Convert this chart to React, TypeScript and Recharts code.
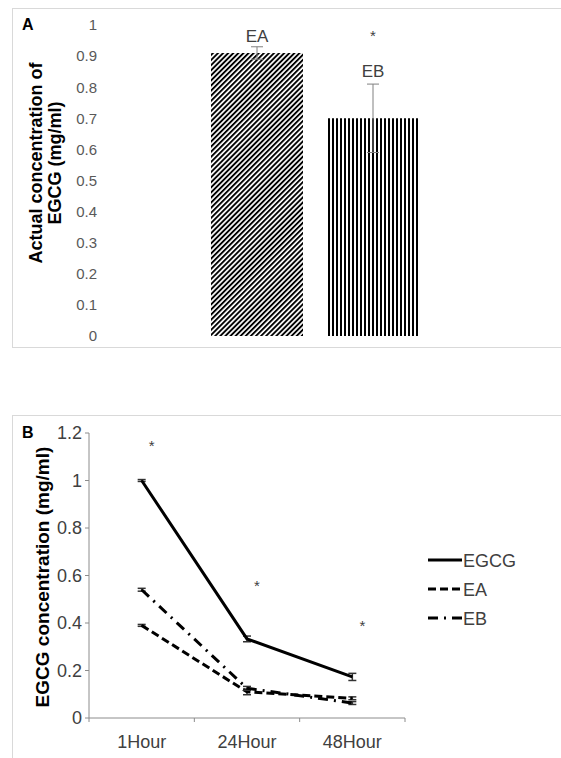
import React from "react";
import {
  BarChart,
  Bar,
  LineChart,
  Line,
  XAxis,
  YAxis,
  ErrorBar,
  LabelList,
  Legend,
} from "recharts";

// ==================== DATA ====================

// Panel A – actual concentration of EGCG in the two formulations
const formulationGroup = [""];
const eaValues = [0.91];
const eaErrors = [0.02];
const eaLabels = ["EA"];
const ebValues = [0.7];
const ebErrors = [0.11];
const ebLabels = ["EB"];
const ebSignificance = ["*"];
const ticksA = [0, 0.1, 0.2, 0.3, 0.4, 0.5, 0.6, 0.7, 0.8, 0.9, 1];

// Panel B – EGCG concentration over time
const seriesNames = ["EGCG", "EA", "EB"];
const timePoints = ["1Hour", "24Hour", "48Hour"];
const egcgValues = [1.0, 0.333, 0.173];
const egcgErrors = [0.004, 0.012, 0.015];
const eaTimeValues = [0.39, 0.11, 0.083];
const eaTimeErrors = [0.004, 0.012, 0.006];
const ebTimeValues = [0.54, 0.125, 0.063];
const ebTimeErrors = [0.006, 0.008, 0.006];
const starLevels = [1.16, 0.57, 0.4];
const ticksB = [0, 0.2, 0.4, 0.6, 0.8, 1, 1.2];

const FONT = "'Liberation Sans', Arial, sans-serif";

const dataA = formulationGroup.map((g, i) => ({
  group: g,
  EA: eaValues[i],
  EAerr: eaErrors[i],
  EAlabel: eaLabels[i],
  EB: ebValues[i],
  EBerr: ebErrors[i],
  EBlabel: ebLabels[i],
  EBsig: ebSignificance[i],
}));

const dataB = timePoints.map((t, i) => ({
  time: t,
  EGCG: egcgValues[i],
  EGCGerr: egcgErrors[i],
  EA: eaTimeValues[i],
  EAerr: eaTimeErrors[i],
  EB: ebTimeValues[i],
  EBerr: ebTimeErrors[i],
  star: starLevels[i],
}));

// ==================== PANEL B HELPERS ====================

const B_PLOT_W = 316;
const B_BAND = B_PLOT_W / timePoints.length;
const LEGEND_W = 130;

const lineStyles: Record<string, string | undefined> = {
  EGCG: undefined,
  EA: "8 4",
  EB: "10 6 2 6",
};

const TimeTick = (props: any) => {
  const { x, y, payload, index } = props;
  const last = index === timePoints.length - 1;
  return (
    <g>
      <line x1={x - B_BAND / 2} y1={y} x2={x - B_BAND / 2} y2={y + 4} stroke="#8c8c8c" />
      {last && (
        <line x1={x + B_BAND / 2} y1={y} x2={x + B_BAND / 2} y2={y + 4} stroke="#8c8c8c" />
      )}
      <text x={x} y={y + 30} textAnchor="middle" fontSize={18} fill="#404040" fontFamily={FONT}>
        {payload.value}
      </text>
    </g>
  );
};

const renderStar = (props: any) => {
  const { cx, cy, index } = props;
  return (
    <text key={`star-${index}`} x={cx + 10} y={cy + 8} textAnchor="middle" fontSize={15} fill="#404040" stroke="none" fontFamily={FONT}>
      *
    </text>
  );
};

// legend keeps the original series order: EGCG, EA, EB
const LegendB = () => (
  <svg width={LEGEND_W} height={90} style={{ display: "block" }}>
    {seriesNames.map((name, i) => {
      const y = 14 + i * 29;
      return (
        <g key={name}>
          <line x1={0} y1={y} x2={34} y2={y} stroke="#000" strokeWidth={3} strokeDasharray={lineStyles[name]} />
          <text x={35} y={y + 6.5} fontSize={18} fill="#404040" fontFamily={FONT}>
            {name}
          </text>
        </g>
      );
    })}
  </svg>
);

// ==================== APP ====================

export default function App() {
  return (
    <div
      style={{
        position: "absolute",
        left: 0,
        top: 0,
        width: 561,
        height: 758,
        overflow: "hidden",
        background: "#fff",
        fontFamily: FONT,
      }}
    >
      {/* frames */}
      <div style={{ position: "absolute", left: 12, top: 8, width: 600, height: 338, border: "1px solid #d9d9d9" }} />
      <div style={{ position: "absolute", left: 12, top: 415, width: 600, height: 400, border: "1px solid #d9d9d9" }} />

      {/* Panel A */}
      <div style={{ position: "absolute", left: 0, top: 0 }}>
        <BarChart
          width={561}
          height={350}
          data={dataA}
          margin={{ top: 25, right: 31, bottom: 14, left: 0 }}
          barSize={92}
          barGap={24}
        >
          <defs>
            <pattern id="diag" patternUnits="userSpaceOnUse" width={3.6} height={3.6} patternTransform="rotate(45)">
              <rect x={0} y={0} width={3.6} height={3.6} fill="#fff" />
              <rect x={0} y={0} width={1.9} height={3.6} fill="#000" />
            </pattern>
            <pattern id="vert" patternUnits="userSpaceOnUse" width={4} height={4}>
              <rect x={0} y={0} width={4} height={4} fill="#fff" />
              <rect x={0} y={0} width={2} height={4} fill="#000" />
            </pattern>
          </defs>
          <XAxis dataKey="group" hide />
          <YAxis
            domain={[0, 1]}
            ticks={ticksA}
            axisLine={false}
            tickLine={false}
            tickSize={0}
            tickMargin={3}
            width={100}
            tick={{ fontSize: 15, fill: "#595959", fontFamily: FONT }}
          />
          <Bar dataKey="EA" fill="url(#diag)" isAnimationActive={false}>
            <ErrorBar dataKey="EAerr" width={6} stroke="#808080" strokeWidth={1} direction="y" />
            <LabelList dataKey="EAlabel" position="top" offset={11} fontSize={17} fill="#404040" fontFamily={FONT} />
          </Bar>
          <Bar dataKey="EB" fill="url(#vert)" isAnimationActive={false}>
            <ErrorBar dataKey="EBerr" width={6} stroke="#808080" strokeWidth={1} direction="y" />
            <LabelList dataKey="EBlabel" position="top" offset={41} fontSize={17} fill="#404040" fontFamily={FONT} />
            <LabelList dataKey="EBsig" position="top" offset={77} fontSize={15} fill="#404040" fontFamily={FONT} />
          </Bar>
        </BarChart>
      </div>

      {/* Panel B */}
      <div style={{ position: "absolute", left: 0, top: 400 }}>
        {/* the vertical legend reserves its own width on the right, so the margin leaves it out */}
        <LineChart width={561} height={358} data={dataB} margin={{ top: 33, right: 156 - LEGEND_W, bottom: 0, left: 0 }}>
          <XAxis
            dataKey="time"
            height={40}
            padding={{ left: B_BAND / 2, right: B_BAND / 2 }}
            axisLine={{ stroke: "#8c8c8c" }}
            tickLine={false}
            tickSize={0}
            tickMargin={0}
            tick={<TimeTick />}
            interval={0}
          />
          <YAxis
            domain={[0, 1.2]}
            ticks={ticksB}
            width={89}
            axisLine={{ stroke: "#8c8c8c" }}
            tickLine={{ stroke: "#8c8c8c" }}
            tickSize={4}
            tickMargin={3}
            tick={{ fontSize: 18, fill: "#404040", fontFamily: FONT }}
          />
          <Legend
            layout="vertical"
            verticalAlign="top"
            align="right"
            wrapperStyle={{ top: 146, left: 428, width: LEGEND_W }}
            content={<LegendB />}
          />
          <Line dataKey="EGCG" stroke="#000" strokeWidth={3} dot={false} activeDot={false} isAnimationActive={false}>
            <ErrorBar dataKey="EGCGerr" width={4} stroke="#333" strokeWidth={1.5} direction="y" />
          </Line>
          <Line dataKey="EA" stroke="#000" strokeWidth={3} strokeDasharray={lineStyles.EA} dot={false} activeDot={false} isAnimationActive={false}>
            <ErrorBar dataKey="EAerr" width={4} stroke="#333" strokeWidth={1.5} direction="y" />
          </Line>
          <Line dataKey="EB" stroke="#000" strokeWidth={3} strokeDasharray={lineStyles.EB} dot={false} activeDot={false} isAnimationActive={false}>
            <ErrorBar dataKey="EBerr" width={4} stroke="#333" strokeWidth={1.5} direction="y" />
          </Line>
          <Line dataKey="star" stroke="none" legendType="none" dot={renderStar} activeDot={false} isAnimationActive={false} />
        </LineChart>
      </div>

      {/* panel letters and axis titles */}
      <div style={{ position: "absolute", left: 22, top: 16, fontSize: 16, fontWeight: "bold" }}>A</div>
      <div style={{ position: "absolute", left: 22, top: 424, fontSize: 16, fontWeight: "bold" }}>B</div>
      <div
        style={{
          position: "absolute",
          left: 46 - 150,
          top: 163 - 19,
          width: 300,
          height: 38,
          transform: "rotate(-90deg)",
          textAlign: "center",
          fontSize: 18,
          lineHeight: "19px",
          fontWeight: "bold",
          color: "#000",
        }}
      >
        Actual concentration of
        <br />
        EGCG (mg/ml)
      </div>
      <div
        style={{
          position: "absolute",
          left: 43 - 150,
          top: 577 - 10,
          width: 300,
          height: 20,
          transform: "rotate(-90deg)",
          textAlign: "center",
          fontSize: 19,
          lineHeight: "20px",
          fontWeight: "bold",
          color: "#000",
        }}
      >
        EGCG concentration (mg/ml)
      </div>
    </div>
  );
}
